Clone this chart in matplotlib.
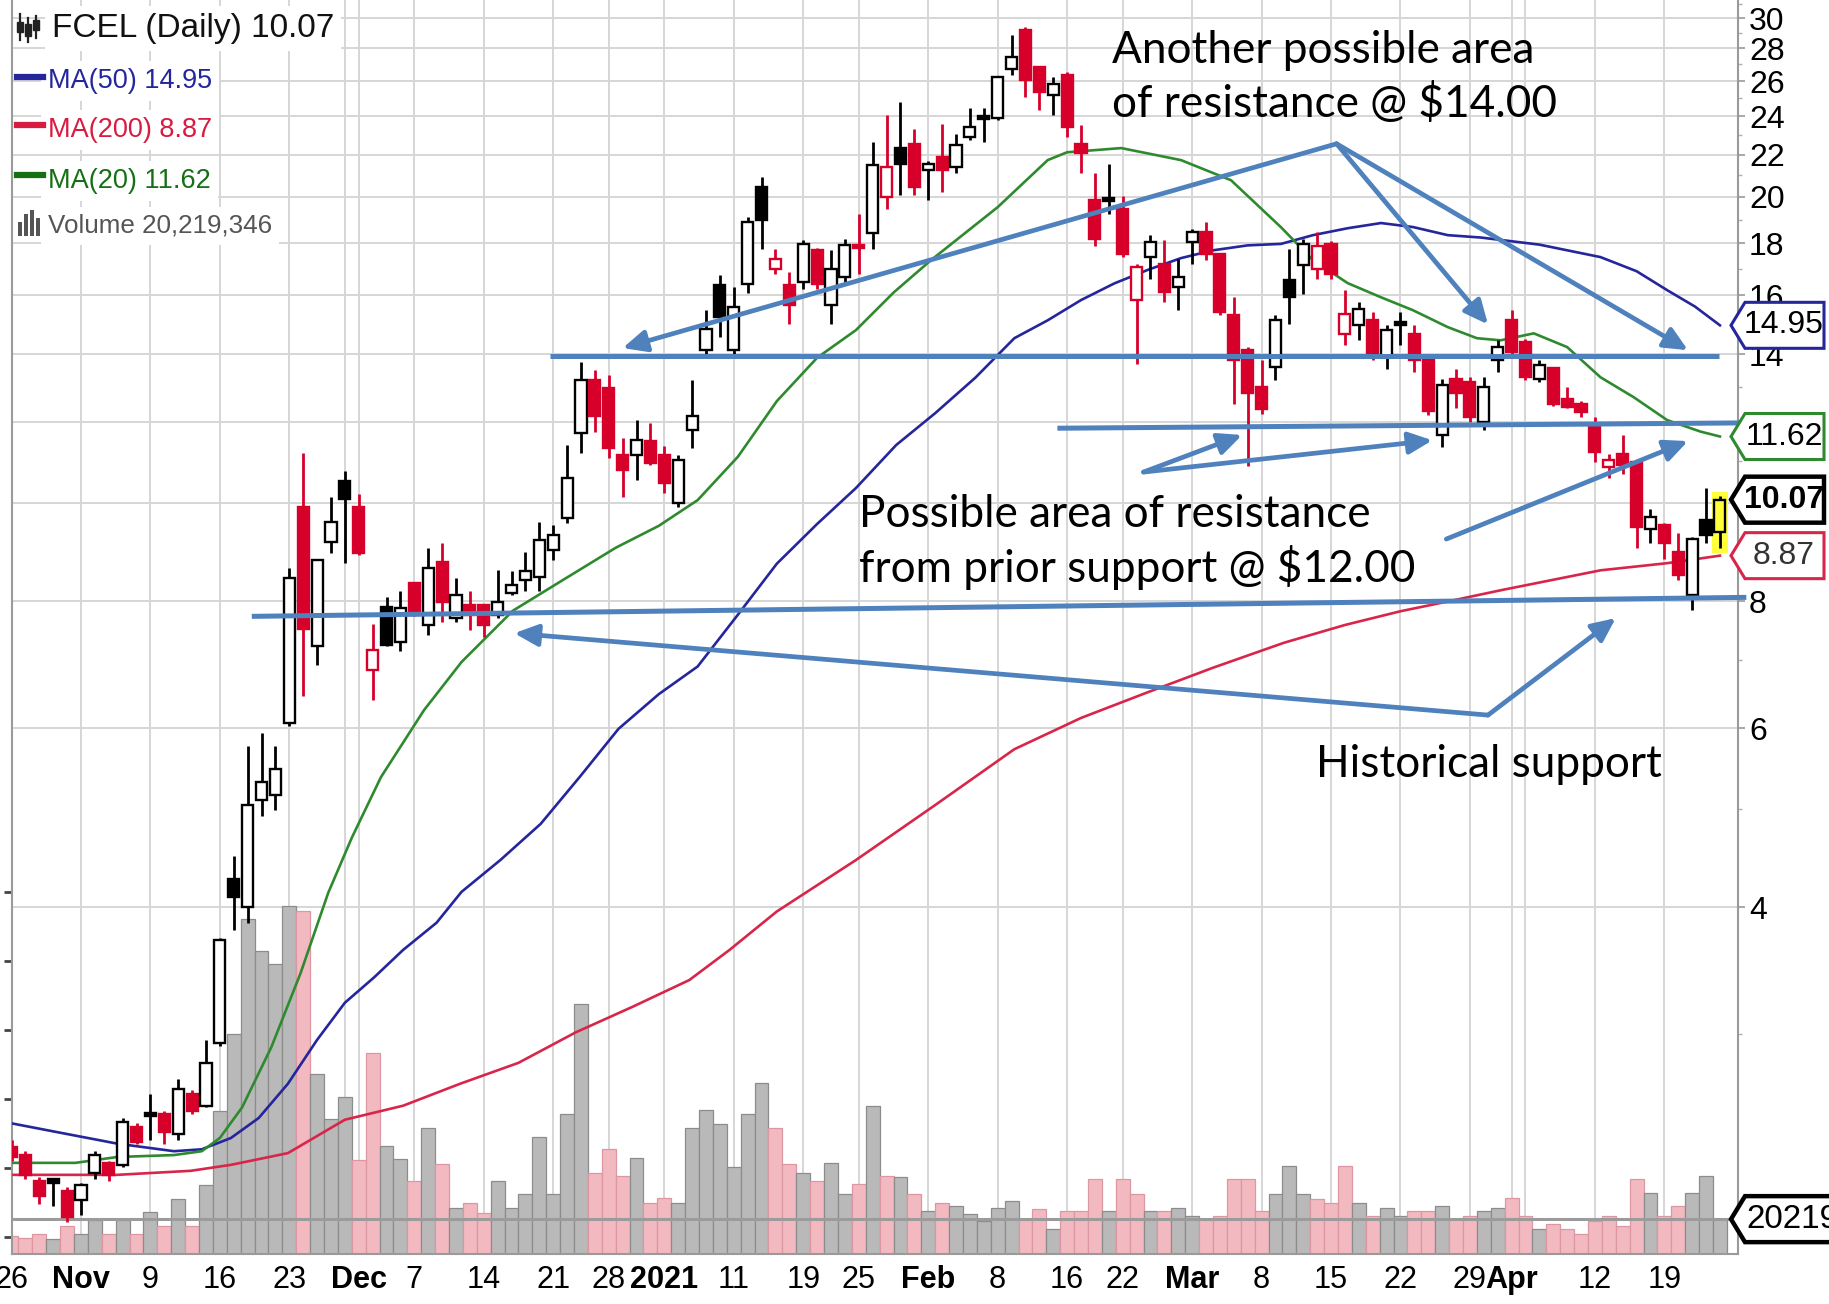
import numpy as np
import pandas as pd
import matplotlib
matplotlib.use("Agg")
from matplotlib import pyplot as plt
from matplotlib import font_manager, transforms
from matplotlib.patches import Polygon, Rectangle
from matplotlib.lines import Line2D
from matplotlib.ticker import FixedLocator, NullFormatter

# ---------------- data ----------------
trade_start = "2020-10-26"
trade_end = "2021-04-23"
market_holidays = ["2020-11-26", "2020-12-25", "2021-01-01", "2021-01-18", "2021-02-15", "2021-04-02"]
prior_close = 2.35

opens = [2.32, 2.28, 2.15, 2.16, 2.10, 2.06, 2.19, 2.24, 2.23, 2.43,
         2.51, 2.50, 2.39, 2.62, 2.55, 2.94, 4.26, 4.00, 5.10, 5.16,
         6.07, 9.91, 7.22, 9.14, 10.50, 9.91, 6.85, 7.90, 7.30, 8.33,
         7.58, 8.75, 7.70, 7.93, 7.93, 7.76, 8.15, 8.40, 8.46, 8.99,
         9.65, 11.71, 13.21, 12.96, 11.15, 11.15, 11.49, 11.15, 9.99, 11.80,
         14.13, 16.37, 14.13, 16.43, 20.46, 17.00, 16.37, 16.50, 17.72, 15.65,
         16.69, 17.95, 18.41, 20.00, 22.32, 22.57, 21.25, 21.90, 21.41, 22.92,
         24.00, 23.89, 26.75, 29.18, 26.86, 25.18, 26.35, 22.57, 19.86, 19.93,
         19.48, 15.82, 17.46, 17.19, 16.31, 18.06, 18.47, 17.59, 15.29, 14.13,
         13.00, 13.60, 16.56, 17.13, 17.00, 17.99, 14.67, 14.95, 15.12, 13.92,
         15.06, 14.67, 13.86, 11.65, 13.25, 13.15, 12.01, 13.81, 15.12, 14.40,
         13.25, 13.56, 12.66, 12.52, 11.96, 10.85, 11.18, 10.97, 9.43, 9.51,
         8.95, 8.11, 9.61, 9.35]
highs = [2.36, 2.30, 2.17, 2.16, 2.12, 2.14, 2.30, 2.25, 2.48, 2.45,
         2.62, 2.52, 2.71, 2.64, 2.96, 3.73, 4.49, 5.76, 5.93, 5.76,
         8.63, 11.19, 8.78, 10.14, 10.75, 10.20, 7.60, 8.08, 8.18, 8.35,
         9.02, 9.12, 8.43, 8.18, 7.95, 8.59, 8.56, 8.95, 9.58, 9.51,
         11.40, 13.77, 13.51, 13.36, 11.58, 12.07, 11.98, 11.36, 11.15, 13.21,
         15.47, 16.75, 16.31, 19.10, 20.93, 17.79, 16.87, 18.13, 17.80, 17.72,
         18.20, 19.25, 22.66, 24.07, 24.81, 23.35, 21.70, 23.62, 23.09, 24.44,
         24.44, 26.30, 28.85, 29.40, 26.90, 26.25, 26.55, 23.53, 21.09, 21.57,
         20.05, 17.19, 18.33, 18.12, 17.39, 18.60, 18.89, 17.60, 15.94, 14.23,
         13.81, 15.29, 17.79, 18.19, 18.47, 18.10, 16.18, 15.76, 15.41, 14.95,
         15.41, 14.95, 13.90, 13.25, 13.55, 13.30, 13.30, 14.46, 15.47, 14.50,
         13.81, 13.60, 13.00, 12.60, 12.15, 11.18, 11.65, 11.00, 9.86, 9.56,
         9.33, 9.25, 10.33, 10.15]
lows = [2.25, 2.16, 2.04, 2.03, 1.96, 1.99, 2.16, 2.15, 2.22, 2.34,
        2.36, 2.34, 2.36, 2.50, 2.54, 2.92, 3.80, 3.86, 4.92, 4.98,
        6.03, 6.46, 6.93, 8.93, 8.73, 8.89, 6.39, 7.22, 7.14, 7.74,
        7.41, 7.64, 7.64, 7.49, 7.38, 7.70, 8.11, 8.18, 8.18, 8.78,
        9.55, 11.19, 11.75, 11.06, 10.14, 10.53, 10.90, 10.22, 9.91, 11.32,
        13.92, 14.56, 14.02, 16.07, 17.79, 16.81, 15.01, 16.25, 16.25, 15.01,
        16.50, 16.81, 17.79, 19.48, 20.08, 20.08, 19.86, 20.23, 21.09, 22.74,
        22.66, 23.80, 26.35, 25.09, 24.34, 24.07, 22.92, 21.09, 17.90, 19.25,
        17.46, 13.71, 16.62, 15.76, 15.47, 17.19, 17.33, 15.30, 12.52, 10.88,
        12.24, 13.20, 15.00, 16.06, 16.62, 16.60, 14.29, 14.45, 13.81, 13.55,
        14.29, 13.46, 12.20, 11.35, 12.40, 12.01, 11.79, 13.46, 13.93, 13.20,
        13.15, 12.45, 12.40, 12.15, 10.97, 10.57, 10.68, 9.02, 9.12, 8.81,
        8.39, 7.84, 9.12, 9.02]
closes = [2.27, 2.18, 2.08, 2.14, 1.98, 2.13, 2.28, 2.18, 2.46, 2.35,
          2.49, 2.40, 2.65, 2.52, 2.81, 3.71, 4.09, 5.04, 5.31, 5.47,
          8.43, 7.51, 8.78, 9.58, 10.09, 8.93, 7.17, 7.24, 7.87, 7.76,
          8.62, 7.99, 8.11, 7.76, 7.58, 7.99, 8.30, 8.56, 9.19, 9.30,
          10.57, 13.21, 12.16, 11.32, 10.77, 11.53, 10.94, 10.45, 11.02, 12.16,
          14.84, 15.24, 15.59, 18.90, 18.97, 17.39, 15.65, 17.99, 16.43, 17.00,
          17.92, 17.80, 21.49, 21.41, 21.57, 20.46, 21.57, 21.25, 22.49, 23.44,
          23.85, 26.25, 27.47, 26.05, 25.38, 25.86, 23.44, 22.07, 18.20, 19.80,
          17.59, 17.06, 18.06, 16.12, 16.68, 18.47, 17.59, 15.41, 13.81, 12.81,
          12.38, 15.12, 15.94, 17.99, 17.90, 16.81, 15.35, 15.53, 14.02, 14.78,
          14.95, 13.81, 12.30, 13.05, 12.81, 12.15, 13.00, 14.24, 14.08, 13.30,
          13.66, 12.52, 12.43, 12.29, 11.22, 11.01, 10.89, 9.47, 9.68, 9.12,
          8.49, 9.22, 9.30, 10.07]
# volume in millions of shares
volumes = [10.4, 9.5, 11.8, 8.5, 16.2, 11.4, 19.5, 11.4, 19.5, 11.4,
           24.4, 16.2, 31.7, 16.2, 40.0, 82.9, 127.4, 194.1, 175.7, 168.2,
           201.8, 198.9, 104.2, 78.1, 91.1, 54.3, 116.8, 62.6, 54.9, 42.3,
           73.3, 52.4, 26.9, 29.8, 24.0, 42.3, 26.9, 34.6, 67.9, 34.6,
           81.0, 145.2, 47.2, 60.7, 45.2, 55.9, 29.8, 32.7, 29.8, 73.3,
           83.3, 75.6, 50.5, 81.0, 99.4, 73.3, 52.4, 47.2, 42.3, 53.0,
           34.6, 40.4, 85.8, 45.2, 44.7, 34.6, 24.9, 29.8, 27.8, 23.2,
           19.1, 26.9, 30.7, 20.1, 26.1, 14.3, 24.9, 24.9, 43.3, 24.9,
           43.3, 34.6, 24.9, 24.9, 26.9, 22.0, 20.1, 22.0, 43.3, 43.3,
           24.9, 34.6, 51.0, 34.6, 31.7, 29.8, 51.0, 29.8, 22.0, 26.9,
           22.0, 24.9, 24.9, 27.8, 20.1, 22.0, 24.9, 26.9, 32.7, 22.0,
           14.3, 17.2, 14.3, 11.4, 19.1, 22.0, 16.2, 43.3, 35.6, 22.0,
           27.8, 35.6, 45.2, 20.219346]

# moving averages, sampled along the curves (session index, value)
ma50_day = [0, 3.4, 7.6, 11.7, 13.7, 15.8, 17.8, 19.9, 22.0, 24.0, 26.1, 28.2, 30.6, 32.4, 35.2,
            38.1, 40.9, 43.7, 46.6, 49.4, 52.3, 55.1, 58.0, 60.8, 63.7, 66.5, 69.4, 72.2, 74.6,
            77, 79.4, 81.8, 84.2, 86.5, 89, 91.4, 93.7, 96.2, 98.6, 100.9, 103.4, 105.8, 110.0,
            114.4, 117.0, 119.2, 121.2, 123]
ma50_val = [2.45, 2.40, 2.34, 2.30, 2.31, 2.37, 2.48, 2.68, 2.96, 3.22, 3.41, 3.63, 3.86, 4.14, 4.45,
            4.83, 5.37, 5.99, 6.48, 6.90, 7.76, 8.71, 9.53, 10.34, 11.40, 12.25, 13.28, 14.52, 15.12,
            15.83, 16.44, 16.95, 17.41, 17.72, 17.92, 17.98, 18.34, 18.63, 18.85, 18.68, 18.34, 18.24,
            17.95, 17.45, 16.90, 16.19, 15.60, 14.95]
ma200_day = [0, 7.6, 12.9, 15.8, 19.9, 24.0, 28.2, 32.3, 36.5, 40.6, 44.7, 48.8, 51.7, 55.1, 60.8,
             66.5, 72.2, 77.0, 81.7, 86.5, 91.6, 96.0, 100, 103.5, 107.2, 114.4, 119.2, 123]
ma200_val = [2.18, 2.18, 2.20, 2.23, 2.29, 2.47, 2.55, 2.68, 2.81, 3.01, 3.19, 3.39, 3.63, 3.96, 4.45,
             5.04, 5.72, 6.14, 6.50, 6.88, 7.28, 7.58, 7.82, 8.00, 8.20, 8.58, 8.72, 8.87]
ma20_day = [0, 4.6, 7.6, 11.7, 13.7, 15.0, 16.6, 18.7, 20.8, 22.8, 24.5, 26.6, 29.7, 32.4, 36.1,
            39.8, 43.5, 46.6, 49.4, 52.3, 55.1, 58.0, 60.8, 63.5, 66.2, 71.0, 74.6, 76.0, 79.9,
            84.2, 87.8, 91.4, 93.7, 96.2, 98.6, 100.9, 103.4, 105.5, 107.2, 109.6, 112.0, 114.4,
            116.8, 119.2, 121.6, 123]
ma20_val = [2.24, 2.24, 2.27, 2.28, 2.30, 2.37, 2.54, 2.91, 3.44, 4.13, 4.68, 5.37, 6.25, 6.97, 7.83,
            8.41, 9.03, 9.49, 10.06, 11.10, 12.59, 13.89, 14.79, 16.10, 17.33, 19.54, 21.74, 22.13,
            22.34, 21.74, 20.77, 18.67, 17.33, 16.45, 15.93, 15.47, 14.89, 14.52, 14.45, 14.68, 14.23,
            13.29, 12.70, 12.06, 11.75, 11.62]

price_ticks = [4, 6, 8, 10, 12, 14, 16, 18, 20, 22, 24, 26, 28, 30]
# the 10 label sits under the last-close tag in the reference, so it is left blank
price_tick_labels = ["4", "6", "8", "", "12", "14", "16", "18", "20", "22", "24", "26", "28", "30"]
tick_dates = ["2020-10-26", "2020-11-02", "2020-11-09", "2020-11-16", "2020-11-23", "2020-12-01",
              "2020-12-07", "2020-12-14", "2020-12-21", "2020-12-28", "2021-01-04", "2021-01-11",
              "2021-01-19", "2021-01-25", "2021-02-01", "2021-02-08", "2021-02-16", "2021-02-22",
              "2021-03-01", "2021-03-08", "2021-03-15", "2021-03-22", "2021-03-29", "2021-04-01",
              "2021-04-12", "2021-04-19"]
tick_labels = ["26", "Nov", "9", "16", "23", "Dec", "7", "14", "21", "28", "2021", "11",
               "19", "25", "Feb", "8", "16", "22", "Mar", "8", "15", "22", "29", "Apr", "12", "19"]

# hand-drawn support / resistance markup (session index, price)
level_lines = [((38.8, 13.95), (122.9, 13.95)),
               ((75.3, 11.84), (130.2, 12.00)),
               ((17.3, 7.73), (124.9, 8.07))]
arrows = [((95.4, 22.56), (44.0, 14.2)),
          ((95.4, 22.56), (106.3, 14.98)),
          ((95.4, 22.56), (120.7, 14.13)),
          ((81.5, 10.72), (88.6, 11.66)),
          ((81.5, 10.72), (102.3, 11.52)),
          ((103.3, 9.21), (120.7, 11.50)),
          ((106.3, 6.18), (36.2, 7.44)),
          ((106.3, 6.18), (115.5, 7.70))]
notes = [("Another possible area", 1112, 63), ("of resistance @ $14.00", 1112, 117),
         ("Possible area of resistance", 859, 527), ("from prior support @ $12.00", 859, 582),
         ("Historical support", 1316, 777)]

# ---------------- setup ----------------
W, H = 1829, 1304
installed = {f.name for f in font_manager.fontManager.ttflist}
NARROW = "Liberation Sans Narrow" if "Liberation Sans Narrow" in installed else "Liberation Sans"
NS = 1.0 if NARROW == "Liberation Sans Narrow" else 0.92
NOTE = "Lato" if "Lato" in installed else "DejaVu Sans"

RED = "#d7002b"
NAVY = "#25259c"
MAGREEN = "#2f8a2f"
MARED = "#d8264a"
ANNO = "#4f81bd"
GRID = "#d6d6d6"


def fx(x):
    return x / W


def fy(y):
    return 1 - y / H


sessions = pd.bdate_range(trade_start, trade_end)
sessions = sessions[~sessions.isin(pd.to_datetime(market_holidays))]
days = np.arange(len(sessions))
o, hi, lo, c = (np.array(a) for a in (opens, highs, lows, closes))
prev = np.r_[prior_close, c[:-1]]
down = c < prev

idx = pd.Series(days, index=sessions)
iso = sessions.isocalendar()
week_first = idx.groupby([iso.year.values, iso.week.values]).min().values
month_first = idx.groupby(sessions.to_period("M")).min().values
grid_days = np.union1d(week_first, month_first)
tick_pos = sessions.get_indexer(pd.to_datetime(tick_dates))

fig = plt.figure(figsize=(W / 100, H / 100), dpi=100)
fig.patch.set_facecolor("white")
rect = [fx(11.5), fy(1254), (1738 - 11.5) / W, 1254 / H]
vol_ax = fig.add_axes(rect)
ax = fig.add_axes(rect, sharex=vol_ax)
ax.patch.set_visible(False)

ax.set_yscale("log")
ax.set_ylim(1.822, 31.25)
ax.set_xlim(0.1, 124.3)
VMAX = 727.3
vol_ax.set_ylim(0, VMAX)

# grid (bottom layer)
for d in grid_days:
    vol_ax.axvline(d, color=GRID, lw=1.4, zorder=0)
hgrid = transforms.blended_transform_factory(vol_ax.transAxes, ax.transData)
for p in price_ticks:
    vol_ax.plot([0, 1], [p, p], transform=hgrid, color=GRID, lw=1.4, zorder=0)

# volume
vol_face = np.where(down, "#f2b9c0", "#b9b9b9")
vol_edge = np.where(down, "#dc98a2", "#8c8c8c")
vol_ax.bar(days, volumes, width=1.0, color=vol_face, edgecolor=vol_edge, linewidth=0.9, zorder=2)
vol_ax.axhline(volumes[-1], color="#9b9b9b", lw=2.2, zorder=3)
vol_ax.set_yticks([10, 50, 90, 130, 170, 210])
vol_ax.tick_params(axis="y", left=True, labelleft=False, length=6, width=2, color="#444")
vol_ax.tick_params(axis="x", bottom=False, labelbottom=False)
for s in vol_ax.spines.values():
    s.set_visible(False)

# moving averages
ax.plot(ma200_day, ma200_val, color=MARED, lw=1.9, zorder=3, solid_joinstyle="round")
ax.plot(ma50_day, ma50_val, color=NAVY, lw=1.9, zorder=3, solid_joinstyle="round")
ax.plot(ma20_day, ma20_val, color=MAGREEN, lw=1.9, zorder=3, solid_joinstyle="round")

# candles
filled = c < o
edge = np.where(down, RED, "black")
face = np.where(filled, np.where(down, RED, "black"), "white").astype(object)
face[-1] = "#ffff3c"
ax.bar(days[-1], hi[-1] * 1.01 - lo[-1] * 0.99, bottom=lo[-1] * 0.99, width=1.1,
       color="#ffff3c", zorder=3.5)
ax.vlines(days, lo, hi, colors=edge, lw=2.0, zorder=4)
body_lo = np.minimum(o, c)
body_hi = np.maximum(np.maximum(o, c), body_lo * 1.004)
ax.bar(days, body_hi - body_lo, bottom=body_lo, width=0.8, color=list(face),
       edgecolor=edge, linewidth=1.7, zorder=5)

# axes cosmetics
ax.yaxis.tick_right()
ax.set_yticks(price_ticks)
ax.set_yticklabels(price_tick_labels)
ax.yaxis.set_minor_locator(FixedLocator([v for v in range(2, 32) if v not in price_ticks]))
ax.yaxis.set_minor_formatter(NullFormatter())
ax.tick_params(axis="y", which="major", length=5, width=1.2, color="#9a9a9a", pad=3,
               labelsize=25 * NS, labelfontfamily=NARROW)
ax.tick_params(axis="y", which="minor", length=3, width=1.0, color="#b0b0b0")
ax.set_xticks(tick_pos)
ax.set_xticklabels(tick_labels)
ax.tick_params(axis="x", length=0, pad=8, labelsize=24 * NS, labelfontfamily=NARROW)
for t in ax.get_xticklabels():
    if not t.get_text().isdigit() or t.get_text() == "2021":
        t.set_fontweight("bold")
for side in ("left", "right", "bottom"):
    ax.spines[side].set_color("#9a9a9a")
    ax.spines[side].set_linewidth(1.5)
ax.spines["top"].set_visible(False)

# markup lines and arrows
for (x0, y0), (x1, y1) in level_lines:
    ax.plot([x0, x1], [y0, y1], color=ANNO, lw=3.6, zorder=7, clip_on=False,
            solid_capstyle="butt")
for (x0, y0), (x1, y1) in arrows:
    ax.annotate("", xy=(x1, y1), xytext=(x0, y0), annotation_clip=False, zorder=7,
                arrowprops=dict(arrowstyle="-|>,head_length=0.65,head_width=0.3",
                                mutation_scale=22, color=ANNO, lw=3.4,
                                shrinkA=0, shrinkB=0))
for text, x, y in notes:
    fig.text(fx(x), fy(y), text, fontsize=31.8, family=NOTE, color="black",
             ha="left", va="baseline", zorder=20)


# value tags on the right
def tag(src_ax, value, label, edgecolor, textcolor, bold=False, lw=2.2, right=1824,
        align="center", size=25):
    yd = src_ax.transData.transform((1, value))[1] / H
    hh = 23 / H
    pts = [(fx(1731), yd), (fx(1745), yd + hh), (fx(right), yd + hh),
           (fx(right), yd - hh), (fx(1745), yd - hh)]
    fig.add_artist(Polygon(pts, closed=True, transform=fig.transFigure, facecolor="white",
                           edgecolor=edgecolor, lw=lw, zorder=15))
    tx = fx(1784) if align == "center" else fx(1746)
    fig.text(tx, yd, label, ha=align, va="center", fontsize=size * NS, family=NARROW,
             color=textcolor, fontweight="bold" if bold else "normal", zorder=16)


tag(ax, ma50_val[-1], f"{ma50_val[-1]:.2f}", NAVY, "black")
tag(ax, ma20_val[-1], f"{ma20_val[-1]:.2f}", MAGREEN, "black")
tag(ax, closes[-1], f"{closes[-1]:.2f}", "black", "black", bold=True, lw=3.2)
tag(ax, ma200_val[-1], f"{ma200_val[-1]:.2f}", MARED, "#333333")
tag(vol_ax, volumes[-1], f"{volumes[-1] * 1e6:.0f}", "black", "black", lw=3.2,
    right=1840, align="left", size=26)

# legend block (top left)
white_box = dict(facecolor="white", edgecolor="none", pad=5)
fig.text(fx(52), fy(37), f"FCEL (Daily) {closes[-1]:.2f}", fontsize=24, family="Liberation Sans",
         color="#111111", va="baseline", bbox=white_box, zorder=12)
for kx, top, bot, btop, bbot in [(20, 14, 40, 22, 32), (28, 18, 42, 24, 36), (36, 16, 38, 20, 30)]:
    fig.add_artist(Line2D([fx(kx), fx(kx)], [fy(top), fy(bot)], color="#222", lw=1.6, zorder=13))
    fig.add_artist(Rectangle((fx(kx - 3), fy(bbot)), fx(6), (bbot - btop) / H,
                             facecolor="#222", edgecolor="#222", zorder=13))
legend_rows = [(f"MA(50) {ma50_val[-1]:.2f}", NAVY, 88, 77),
               (f"MA(200) {ma200_val[-1]:.2f}", "#d81b40", 137, 125),
               (f"MA(20) {ma20_val[-1]:.2f}", "#157015", 188, 175)]
for text, col, base, mid in legend_rows:
    fig.add_artist(Line2D([fx(17), fx(43)], [fy(mid), fy(mid)], color=col, lw=4.5, zorder=13))
    fig.text(fx(48), fy(base), text, fontsize=23 * 0.85 if NS < 1 else 23, family=NARROW,
             color=col, va="baseline", bbox=white_box, zorder=12)
fig.text(fx(48), fy(233), f"Volume {volumes[-1] * 1e6:,.0f}", fontsize=22 * 0.85 if NS < 1 else 22,
         family=NARROW, color="#555555", va="baseline", bbox=white_box, zorder=12)
for bx, bh in [(18, 14), (24, 22), (30, 26), (36, 18)]:
    fig.add_artist(Rectangle((fx(bx), fy(236)), fx(4), bh / H, facecolor="#555",
                             edgecolor="none", zorder=13))

fig.savefig("out.png", dpi=100, facecolor="white")
